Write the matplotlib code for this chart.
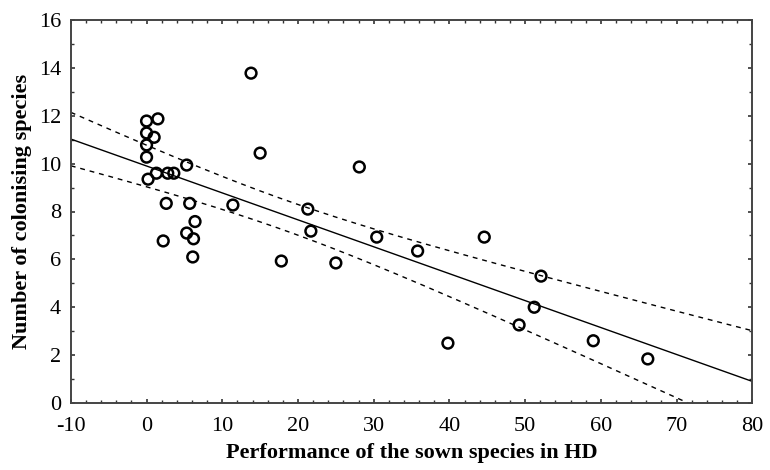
import numpy as np
import matplotlib
matplotlib.use("Agg")
import matplotlib.pyplot as plt
from matplotlib.ticker import MultipleLocator

# Data
perf_sown = [0.0, 1.5, 0.0, 1.0, 0.0, 0.0, 5.3, 1.3, 2.8, 3.6, 0.2,
             2.6, 5.7, 6.4, 5.3, 6.2, 2.2, 6.1,
             13.8, 15.0, 11.4, 21.3, 21.7, 17.8, 25.0, 28.1, 30.4, 35.8,
             44.6, 39.8, 52.1, 51.2, 49.2, 59.0, 66.2]
n_colonising = [11.78, 11.87, 11.28, 11.1, 10.78, 10.27, 9.94, 9.6, 9.6, 9.6, 9.35,
                8.34, 8.34, 7.58, 7.1, 6.86, 6.77, 6.1,
                13.78, 10.44, 8.27, 8.1, 7.18, 5.93, 5.85, 9.86, 6.93, 6.35,
                6.93, 2.5, 5.3, 4.0, 3.26, 2.6, 1.84]

xlabel = "Performance of the sown species in HD"
ylabel = "Number of colonising species"

x = np.array(perf_sown)
y = np.array(n_colonising)
n = len(x)
b, a = np.polyfit(x, y, 1)
resid = y - (a + b * x)
s = np.sqrt(np.sum(resid ** 2) / (n - 2))
t = 2.0345  # t(0.975, 33)
xx = np.linspace(-10, 80, 400)
yy = a + b * xx
se = s * np.sqrt(1.0 / n + (xx - x.mean()) ** 2 / np.sum((x - x.mean()) ** 2))

plt.rcParams['font.family'] = ['Liberation Serif', 'DejaVu Serif']
plt.rcParams['axes.unicode_minus'] = False
fig = plt.figure(figsize=(7.7, 4.7), dpi=100)
ax = fig.add_axes([0.092, 0.1426, 0.885, 0.8148])

ax.plot(xx, yy, color='black', lw=1.0)
ax.plot(xx, yy + t * se, color='black', lw=1.0, ls=(0, (3.5, 3.5)))
ax.plot(xx, yy - t * se, color='black', lw=1.0, ls=(0, (3.5, 3.5)))
ax.scatter(x, y, s=60, facecolors='none', edgecolors='black', linewidths=1.8, zorder=3)

ax.set_xlim(-10, 80)
ax.set_ylim(0, 16)
ax.xaxis.set_major_locator(MultipleLocator(10))
ax.xaxis.set_minor_locator(MultipleLocator(2))
ax.yaxis.set_major_locator(MultipleLocator(2))
ax.yaxis.set_minor_locator(MultipleLocator(1))
ax.tick_params(which='both', direction='in', top=True, right=True, labelsize=16,
               colors='#333333', labelcolor='black')
ax.tick_params(which='major', length=3, width=1.2)
ax.tick_params(which='minor', length=2, width=1.0)
ax.tick_params(axis='x', pad=10)
ax.tick_params(axis='y', pad=7)
for sp in ax.spines.values():
    sp.set_linewidth(1.4)
    sp.set_color('#444444')

ax.set_xlabel(xlabel, fontsize=16, fontweight='bold', labelpad=5)
ax.set_ylabel(ylabel, fontsize=16, fontweight='bold', labelpad=5)

fig.savefig("out.png", dpi=100)
